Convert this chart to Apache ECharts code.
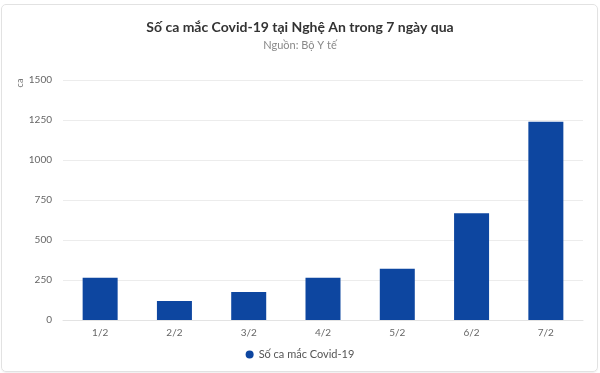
<!DOCTYPE html>
<html>
<head>
<meta charset="utf-8">
<script src="https://cdn.jsdelivr.net/npm/echarts@6/dist/echarts.min.js"></script>
<style>
  html, body { margin: 0; padding: 0; background: #fff; }
  #wrap { position: relative; width: 600px; height: 373px; }
  #chart { position: absolute; left: 0; top: 0; width: 600px; height: 373px; }
  #frame { position: absolute; left: 1px; top: 4px; width: 595px; height: 366px; border: 1px solid #e2e2e2; border-radius: 5px; pointer-events: none; box-shadow: 0 1px 1px rgba(0,0,0,0.06); }
</style>
</head>
<body>
<div id="wrap">
  <div id="chart"></div>
  <div id="frame"></div>
</div>
<script>
const titleText = 'Số ca mắc Covid-19 tại Nghệ An trong 7 ngày qua';
const subtitleText = 'Nguồn: Bộ Y tế';
const yAxisName = 'ca';
const seriesName = 'Số ca mắc Covid-19';
const categories = ['1/2', '2/2', '3/2', '4/2', '5/2', '6/2', '7/2'];
const values = [264, 119, 175, 264, 321, 667, 1239];
const yTicks = [0, 250, 500, 750, 1000, 1250, 1500];

const chart = echarts.init(document.getElementById('chart'), null, { renderer: 'canvas' });
const font = 'Lato, "Noto Sans", sans-serif';
chart.setOption({
  animation: false,
  textStyle: { fontFamily: font },
  title: {
    text: titleText,
    subtext: subtitleText,
    left: 'center',
    top: 15,
    itemGap: 6,
    textStyle: { fontFamily: font, fontSize: 14, fontWeight: 'bold', color: '#333' },
    subtextStyle: { fontFamily: font, fontSize: 11, color: '#888' }
  },
  grid: { left: 63, right: 17, top: 80, bottom: 53, containLabel: false },
  legend: {
    bottom: 8,
    left: 'center',
    icon: 'circle',
    itemWidth: 8,
    itemHeight: 8,
    itemGap: 10,
    textStyle: { fontFamily: font, fontSize: 11, color: '#555' },
    data: [seriesName]
  },
  graphic: [{
    type: 'text',
    x: 20,
    y: 83,
    rotation: Math.PI / 2,
    style: { text: yAxisName, fontFamily: font, fontSize: 9, fill: '#777', textAlign: 'center', textVerticalAlign: 'middle' }
  }],
  xAxis: {
    type: 'category',
    data: categories,
    axisTick: { show: false },
    axisLine: { lineStyle: { color: '#e3e3e3' } },
    axisLabel: { color: '#666', fontSize: 10, margin: 8, fontFamily: font }
  },
  yAxis: {
    type: 'value',
    min: yTicks[0],
    max: yTicks[yTicks.length - 1],
    interval: yTicks[1] - yTicks[0],
    axisLine: { show: false },
    axisTick: { show: false },
    axisLabel: { color: '#666', fontSize: 10, margin: 11, fontFamily: font, formatter: function (v) { return String(v); } },
    splitLine: { lineStyle: { color: '#ececec' } }
  },
  series: [{
    name: seriesName,
    type: 'bar',
    data: values,
    barWidth: 35,
    itemStyle: { color: '#0d46a0' }
  }]
});
</script>
</body>
</html>
